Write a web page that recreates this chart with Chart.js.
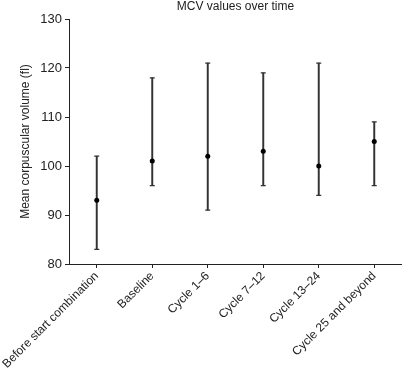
<!DOCTYPE html>
<html lang="en">
<head>
  <meta charset="UTF-8">
  <title>MCV values over time</title>
  <style>
    html, body { margin: 0; padding: 0; background: #fff; }
    #wrap { width: 402px; height: 371px; }
  </style>
  <script src="https://cdn.jsdelivr.net/npm/chart.js"></script>
</head>
<body>
  <div id="wrap"><canvas id="mcvChart" width="402" height="371"></canvas></div>
  <script>
    // Data
    const categories = ['Before start combination', 'Baseline', 'Cycle 1\u20136', 'Cycle 7\u201312', 'Cycle 13\u201324', 'Cycle 25 and beyond'];
    const meanValues = [93, 101, 102, 103, 100, 105];
    const minValues = [83, 96, 91, 96, 94, 96];
    const maxValues = [102, 118, 121, 119, 121, 109];
    const yTicks = [80, 90, 100, 110, 120, 130];

    const FONT = 'Liberation Sans, Arial, sans-serif';
    const INK = '#222';
    const WHISKER = '#333';

    // Title drawn over the plot area centre
    const titlePlugin = {
      id: 'plotTitle',
      afterDraw(chart) {
        const ctx = chart.ctx;
        const a = chart.chartArea;
        ctx.save();
        ctx.fillStyle = INK;
        ctx.font = '12px ' + FONT;
        ctx.textAlign = 'center';
        ctx.textBaseline = 'middle';
        ctx.fillText('MCV values over time', (a.left + a.right) / 2, 7);
        ctx.restore();
      }
    };

    new Chart(document.getElementById('mcvChart'), {
      type: 'bar',
      data: {
        labels: categories,
        datasets: [
          {
            // whiskers (min to max)
            type: 'bar',
            data: minValues.map((v, i) => [v, maxValues[i]]),
            backgroundColor: WHISKER,
            borderWidth: 0,
            barThickness: 1.3,
            order: 3
          },
          {
            type: 'line',
            data: minValues,
            showLine: false,
            pointStyle: 'line',
            pointRadius: 2.5,
            borderColor: WHISKER,
            borderWidth: 1.3,
            order: 2
          },
          {
            type: 'line',
            data: maxValues,
            showLine: false,
            pointStyle: 'line',
            pointRadius: 2.5,
            borderColor: WHISKER,
            borderWidth: 1.3,
            order: 2
          },
          {
            type: 'line',
            data: meanValues,
            showLine: false,
            pointRadius: 2.5,
            pointBackgroundColor: '#000',
            pointBorderWidth: 0,
            order: 1
          }
        ]
      },
      options: {
        responsive: false,
        animation: false,
        events: [],
        layout: { autoPadding: false, padding: { top: 19, right: 0, left: 0, bottom: 0 } },
        plugins: {
          legend: { display: false },
          tooltip: { enabled: false },
          title: { display: false }
        },
        scales: {
          x: {
            offset: true,
            grid: { display: true, drawOnChartArea: false, offset: false, tickLength: 4, color: INK },
            border: { color: INK, width: 1 },
            ticks: {
              minRotation: 45, maxRotation: 45, autoSkip: false, padding: 1,
              color: INK, font: { family: FONT, size: 12 }
            },
            afterFit(scale) {
              scale.height = 107;
              scale.paddingRight = 0;
              scale.paddingLeft = 0;
            }
          },
          y: {
            min: 80, max: 130,
            afterBuildTicks(scale) { scale.ticks = yTicks.map(v => ({ value: v })); },
            grid: { display: true, drawOnChartArea: false, tickLength: 4, color: INK },
            border: { color: INK, width: 1 },
            ticks: { padding: 3, color: INK, font: { family: FONT, size: 13 } },
            title: {
              display: true,
              text: 'Mean corpuscular volume (fl)',
              color: INK,
              font: { family: FONT, size: 12 },
              padding: { top: 18, bottom: 0 }
            },
            afterFit(scale) { scale.width = 69; }
          }
        }
      },
      plugins: [titlePlugin]
    });
  </script>
</body>
</html>
